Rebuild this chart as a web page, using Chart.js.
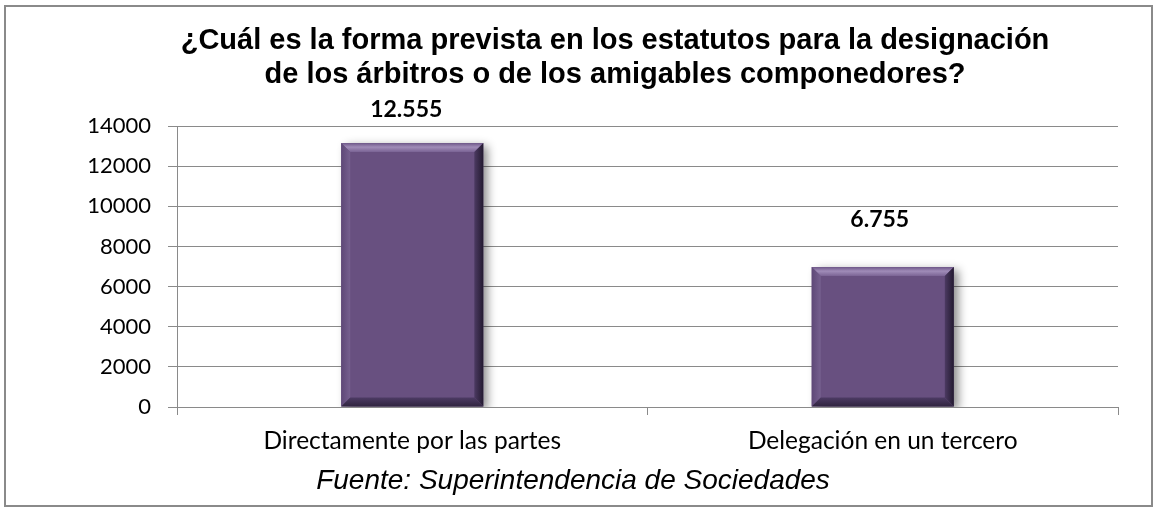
<!DOCTYPE html>
<html><head><meta charset="utf-8">
<script src="https://cdn.jsdelivr.net/npm/chart.js@4/dist/chart.umd.min.js"></script>
<style>html,body{margin:0;padding:0;background:#fff;overflow:hidden}#wrap{width:1158px;height:512px;position:relative}</style>
</head><body><div id="wrap"><canvas id="c" width="1158" height="512"></canvas></div>
<script>
// ---- data ----
const categories = ['Directamente por las partes', 'Delegación en un tercero'];
const values = [13150, 6970];
const valueLabels = ['12.555', '6.755'];
const yMin = 0, yMax = 14000, yStep = 2000;
const titleLines = ['¿Cuál es la forma prevista en los estatutos para la designación', 'de los árbitros o de los amigables componedores?'];
const sourceNote = 'Fuente: Superintendencia de Sociedades';

// ---- style ----
const labelRise = [33, 48];
const labelShift = [-6, -3];
const GRID = '#8a8a8a';

const decor = {
  id: 'decor',
  beforeDatasetsDraw(chart) {
    const ctx = chart.ctx;
    ctx.save();
    ctx.shadowColor = 'rgba(0,0,0,0.45)';
    ctx.shadowBlur = 9;
    ctx.shadowOffsetX = 5;
    ctx.shadowOffsetY = 3;
  },
  afterDatasetsDraw(chart) {
    const ctx = chart.ctx;
    ctx.restore();
    const meta = chart.getDatasetMeta(0);
    meta.data.forEach((bar, i) => {
      const p = bar.getProps(['x', 'y', 'base', 'width'], true);
      const l = p.x - p.width / 2, r = p.x + p.width / 2, t = p.y, b = p.base, s = 9;
      const poly = (pts, fill) => {
        ctx.beginPath(); ctx.moveTo(pts[0][0], pts[0][1]);
        for (let k = 1; k < pts.length; k++) ctx.lineTo(pts[k][0], pts[k][1]);
        ctx.closePath(); ctx.fillStyle = fill; ctx.fill();
      };
      const gT = ctx.createLinearGradient(0, t, 0, t + s);
      gT.addColorStop(0, '#6f5889'); gT.addColorStop(0.45, '#a08cb8'); gT.addColorStop(1, '#7a6394');
      poly([[l, t], [r, t], [r - s, t + s], [l + s, t + s]], gT);
      const gL = ctx.createLinearGradient(l, 0, l + s, 0);
      gL.addColorStop(0, '#5e4877'); gL.addColorStop(1, '#76608f');
      poly([[l, t], [l + s, t + s], [l + s, b - s], [l, b]], gL);
      const gR = ctx.createLinearGradient(r - s, 0, r, 0);
      gR.addColorStop(0, '#4c3a62'); gR.addColorStop(1, '#231a30');
      poly([[r, t], [r, b], [r - s, b - s], [r - s, t + s]], gR);
      const gB = ctx.createLinearGradient(0, b - s, 0, b);
      gB.addColorStop(0, '#4d3b64'); gB.addColorStop(1, '#30243f');
      poly([[l, b], [r, b], [r - s, b - s], [l + s, b - s]], gB);
      // value label
      ctx.save();
      ctx.font = 'bold 23px Lato';
      ctx.fillStyle = '#000';
      ctx.textAlign = 'center';
      ctx.textBaseline = 'middle';
      ctx.fillText(valueLabels[i], p.x + labelShift[i], t - labelRise[i]);
      ctx.restore();
    });
  },
  afterDraw(chart) {
    const ctx = chart.ctx;
    ctx.save();
    ctx.fillStyle = '#000';
    ctx.textAlign = 'center';
    ctx.textBaseline = 'middle';
    ctx.font = 'bold 29px "Liberation Sans", Arial, sans-serif';
    ctx.fillText(titleLines[0], 615, 41);
    ctx.fillText(titleLines[1], 615, 75);
    ctx.font = 'italic 28px "Liberation Sans", Arial, sans-serif';
    ctx.fillText(sourceNote, 573, 481);
    ctx.strokeStyle = GRID;
    ctx.lineWidth = 2;
    ctx.strokeRect(5, 6, 1147, 500);
    ctx.restore();
  }
};

new Chart(document.getElementById('c'), {
  type: 'bar',
  data: {
    labels: categories,
    datasets: [{
      data: values,
      backgroundColor: '#685080',
      borderWidth: 0,
      barPercentage: 0.302,
      categoryPercentage: 1
    }]
  },
  options: {
    responsive: false,
    devicePixelRatio: 1,
    animation: false,
    layout: { padding: { left: 10, right: 40, top: 126, bottom: 0 } },
    plugins: { legend: { display: false }, title: { display: false }, tooltip: { enabled: false } },
    scales: {
      y: {
        min: yMin, max: yMax,
        ticks: { stepSize: yStep, color: '#000', font: { family: 'Lato', size: 22 }, padding: 17,
                 callback: (v) => String(v) },
        grid: { color: GRID, lineWidth: 1, tickLength: 9, drawTicks: true },
        border: { display: true, color: GRID, width: 1 },
        afterFit(s) { s.width = 167; }
      },
      x: {
        ticks: { color: '#000', font: { family: 'Lato', size: 24.5 }, padding: 11 },
        grid: { drawOnChartArea: false, drawTicks: true, tickLength: 8, color: GRID, offset: true },
        border: { display: true, color: GRID, width: 1 },
        afterFit(s) { s.height = 105; }
      }
    }
  },
  plugins: [decor]
});
</script>
</body></html>
